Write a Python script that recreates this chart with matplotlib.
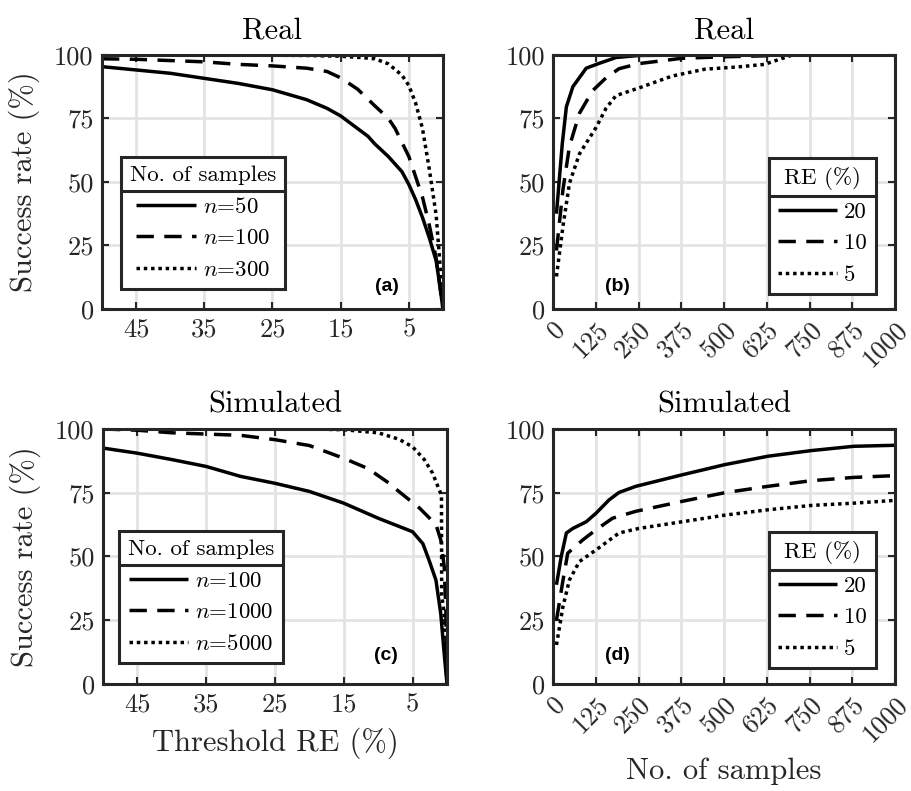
import numpy as np
import matplotlib
matplotlib.use("Agg")
import matplotlib.pyplot as plt
from matplotlib.lines import Line2D

# (a) real data, success rate vs threshold RE for each sample size
a_x50 = [50, 45, 40, 35, 30, 25, 20, 17, 15, 13, 11, 10, 8, 6, 5, 4, 3, 2, 1, 0.5, 0]
a_y50 = [95.4, 94.1, 92.8, 90.8, 88.8, 86.3, 82.4, 79, 76, 72, 68, 65, 60, 54, 49, 43, 36, 28, 19, 10, 0]
a_x100 = [50, 45, 40, 35, 30, 25, 20, 17, 15, 12.5, 10, 8, 7, 5, 3, 2, 1, 0.5, 0]
a_y100 = [98.5, 98.3, 97.8, 97.3, 96.3, 95.7, 94.8, 93.5, 91, 86.5, 80, 75, 71, 60, 44, 33, 20, 10, 0]
a_x300 = [50, 40, 30, 20, 15, 12, 10, 8, 6, 5, 4, 3, 2, 1.5, 1, 0.5, 0]
a_y300 = [100, 100, 100, 99.8, 99.5, 99, 98.5, 96.5, 92, 88, 81, 71, 55, 46, 37, 20, 0]
a_labels = ["$n$=50", "$n$=100", "$n$=300"]

# (b) real data, success rate vs number of samples for each RE
b_x20 = [10, 27, 39, 58, 97, 135, 184, 250, 400, 550, 700]
b_y20 = [37.5, 65, 79.6, 87.5, 94.8, 96.7, 99, 99.8, 100, 100, 100]
b_x10 = [10, 29, 48, 77, 116, 155, 193, 251, 377, 502, 600, 700]
b_y10 = [23, 47, 64, 77, 86, 91, 94.6, 96.6, 98.7, 99.3, 99.6, 100]
b_x5 = [10, 29, 48, 77, 126, 155, 184, 251, 348, 444, 541, 618, 700]
b_y5 = [12.8, 32.5, 49.5, 61, 71.5, 79, 84, 87, 91.7, 94.4, 95.3, 96.3, 100]

# (c) simulated data, success rate vs threshold RE
c_x100 = [50, 45, 40, 35, 30, 25, 20, 15, 10, 5, 3.5, 2.6, 1.6, 0.9, 0.4, 0]
c_y100 = [92.5, 90.5, 88, 85.3, 81.4, 78.7, 75.5, 70.9, 65, 59.7, 55, 48.5, 40.7, 27.5, 11.8, 0]
c_x1000 = [50, 45, 40, 35, 30, 25, 20, 15, 11.5, 8.4, 7, 4, 1.6, 0.9, 0.4, 0.15, 0]
c_y1000 = [100, 99.5, 98.5, 98, 97.5, 95.8, 93.5, 88.5, 84.5, 78.7, 75.5, 69, 62.5, 56.5, 46, 27.5, 0]
c_x5000 = [50, 40, 30, 20, 15, 10, 7, 5, 3.3, 2.1, 1.1, 0.8, 0.77, 0.4, 0]
c_y5000 = [100, 100, 100, 100, 99.7, 98.5, 96, 93, 88, 82.7, 76, 74, 35, 27.5, 0]
c_labels = ["$n$=100", "$n$=1000", "$n$=5000"]

# (d) simulated data, success rate vs number of samples
d_x20 = [10, 24, 39, 58, 97, 126, 164, 193, 242, 377, 502, 628, 754, 879, 1000]
d_y20 = [38.9, 50, 59.2, 61, 63.6, 67, 72.2, 75.1, 77.5, 82, 86, 89.3, 91.5, 93.2, 93.6]
d_x10 = [10, 29, 43, 87, 126, 174, 242, 377, 502, 628, 754, 879, 1000]
d_y10 = [25, 40.6, 51.3, 56.5, 60.5, 65, 67.7, 71.6, 75, 77.5, 79.7, 81, 81.7]
d_x5 = [10, 29, 48, 77, 126, 193, 251, 377, 502, 628, 754, 879, 1000]
d_y5 = [15.3, 30.4, 40.8, 48, 52.6, 59.2, 61, 63.6, 66.2, 68.3, 70, 70.9, 72]
re_labels = ["20", "10", "5"]

thr_ticks = [45, 35, 25, 15, 5]
n_ticks = [0, 125, 250, 375, 500, 625, 750, 875, 1000]
y_ticks = [0, 25, 50, 75, 100]

DARK = "#262626"
STYLES = ["-", (0, (5, 3)), (0, (1, 1.1))]

plt.rcParams["font.family"] = "serif"
plt.rcParams["font.serif"] = ["cmr10"]
plt.rcParams["mathtext.fontset"] = "cm"
plt.rcParams["axes.formatter.use_mathtext"] = True


def style_axes(ax, title):
    ax.set_ylim(0, 100)
    ax.set_yticks(y_ticks)
    ax.set_yticklabels([str(v) for v in y_ticks])
    ax.grid(True, color="#e3e3e3", linewidth=2.0)
    ax.set_axisbelow(True)
    for s in ax.spines.values():
        s.set_color(DARK)
        s.set_linewidth(2.2)
    ax.tick_params(direction="in", length=5, width=1.5, color=DARK,
                   top=True, right=True, labelsize=19, labelcolor=DARK, pad=6)
    ax.set_title(title, fontsize=22, pad=12, color="black")


def draw_curves(ax, series):
    lines = []
    for (x, y), ls in zip(series, STYLES):
        ln, = ax.plot(x, y, color="black", linewidth=2.5, linestyle=ls,
                      dash_capstyle="butt", solid_capstyle="butt")
        lines.append(ln)
    return lines


def add_legend(ax, lines, labels, title, loc, anchor):
    leg = ax.legend(lines, labels, title=title, loc=loc, bbox_to_anchor=anchor,
                    fontsize=16.5, title_fontsize=16.5, fancybox=False, framealpha=1,
                    edgecolor=DARK, handlelength=2.6, handletextpad=0.3,
                    labelspacing=0.5, borderpad=0.4, borderaxespad=0)
    leg.get_frame().set_linewidth(2.2)
    return leg


def add_separator(fig, leg, renderer):
    frame = leg.get_frame().get_window_extent(renderer)
    tbox = leg.get_title().get_window_extent(renderer)
    y = tbox.y0 - 6
    inv = fig.transFigure.inverted()
    (x0, y0), (x1, _) = inv.transform([(frame.x0, y), (frame.x1, y)])
    fig.add_artist(Line2D([x0, x1], [y0, y0], color=DARK, linewidth=2.2,
                          transform=fig.transFigure))


def panel_tag(ax, text, x, y):
    ax.text(x, y, text, transform=ax.transAxes, ha="center", va="center",
            fontsize=14, fontweight="bold", family="Liberation Sans")


def main():
    fig = plt.figure(figsize=(9.12, 7.91), dpi=100)
    ax_a = fig.add_axes([0.1118, 0.6094, 0.3739, 0.3211])
    ax_b = fig.add_axes([0.6064, 0.6094, 0.3750, 0.3211])
    ax_c = fig.add_axes([0.1129, 0.1353, 0.3772, 0.3224])
    ax_d = fig.add_axes([0.6064, 0.1353, 0.3750, 0.3224])

    legends = []

    # threshold panels
    for ax, series, labels, title, anchor, tag, tagpos in [
        (ax_a, [(a_x50, a_y50), (a_x100, a_y100), (a_x300, a_y300)], a_labels,
         "Real", (0.055, 0.078), "(a)", (0.836, 0.087)),
        (ax_c, [(c_x100, c_y100), (c_x1000, c_y1000), (c_x5000, c_y5000)], c_labels,
         "Simulated", (0.046, 0.082), "(c)", (0.823, 0.11)),
    ]:
        lines = draw_curves(ax, series)
        style_axes(ax, title)
        ax.set_xlim(50, 0)
        ax.set_xticks(thr_ticks)
        ax.set_xticklabels([str(v) for v in thr_ticks])
        ax.set_ylabel("Success rate (%)", fontsize=22, color=DARK, labelpad=10)
        legends.append(add_legend(ax, lines, labels, "No. of samples", "lower left", anchor))
        panel_tag(ax, tag, *tagpos)
    ax_c.set_xlabel("Threshold RE (%)", fontsize=22, color=DARK, labelpad=8)

    # sample-count panels
    for ax, series, title, anchor, tag, tagpos in [
        (ax_b, [(b_x20, b_y20), (b_x10, b_y10), (b_x5, b_y5)],
         "Real", (0.945, 0.059), "(b)", (0.187, 0.087)),
        (ax_d, [(d_x20, d_y20), (d_x10, d_y10), (d_x5, d_y5)],
         "Simulated", (0.945, 0.063), "(d)", (0.187, 0.11)),
    ]:
        lines = draw_curves(ax, series)
        style_axes(ax, title)
        ax.set_xlim(0, 1000)
        ax.set_xticks(n_ticks)
        ax.set_xticklabels([str(v) for v in n_ticks], rotation=45, ha="right",
                           rotation_mode="anchor")
        legends.append(add_legend(ax, lines, re_labels, "RE (%)", "lower right", anchor))
        panel_tag(ax, tag, *tagpos)
    ax_d.set_xlabel("No. of samples", fontsize=22, color=DARK, labelpad=8)

    fig.canvas.draw()
    renderer = fig.canvas.get_renderer()
    for leg in legends:
        add_separator(fig, leg, renderer)

    fig.savefig("out.png", dpi=100, facecolor="white")


if __name__ == "__main__":
    main()
